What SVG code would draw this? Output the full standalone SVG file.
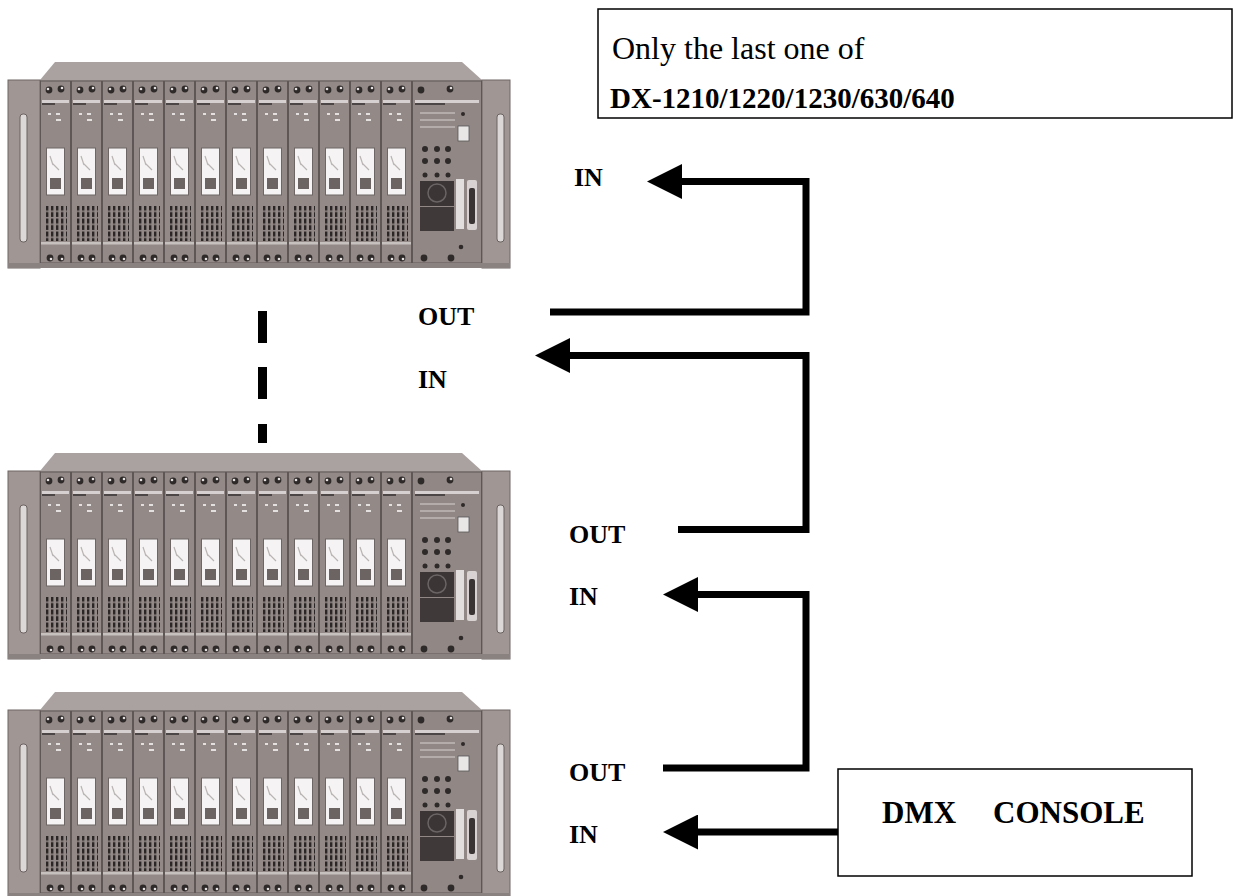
<svg xmlns="http://www.w3.org/2000/svg" xmlns:xlink="http://www.w3.org/1999/xlink" width="1234" height="896" viewBox="0 0 1234 896">
<style>
.lbl{font-family:"Liberation Serif","Times New Roman",serif;font-weight:bold;font-size:26px;fill:#000}
.conn{fill:none;stroke:#000;stroke-width:7;stroke-linejoin:miter}
.box{fill:#fff;stroke:#000;stroke-width:1.5}
.dk{fill:#2f2a2a}
.hl{fill:#e4e0df}
</style>
<defs>
<marker id="arr" viewBox="0 0 35 35" refX="0" refY="17.5" markerWidth="35" markerHeight="35" markerUnits="userSpaceOnUse" orient="auto">
<path d="M0,0 L35,17.5 L0,35 z" fill="#000"/>
</marker>
<pattern id="vent" patternUnits="userSpaceOnUse" width="5" height="6.5">
<rect x="1" y="0.5" width="2.4" height="5" fill="#2b2626"/>
</pattern>
<g id="mod">
<rect x="0.5" y="19" width="30" height="182" fill="#938a88" stroke="#5f5756" stroke-width="1"/>
<circle cx="9" cy="28" r="3.4" class="dk"/><circle cx="8" cy="27" r="1.3" class="hl"/>
<circle cx="21" cy="27" r="3.4" class="dk"/><circle cx="22" cy="26" r="1.3" class="hl"/>
<rect x="2" y="38" width="27" height="3" fill="#d6d1d0"/>
<rect x="2" y="41" width="13" height="2" fill="#4d4646"/>
<rect x="8" y="51" width="3" height="2" class="hl"/><rect x="16" y="51" width="4" height="2" class="hl"/>
<rect x="16" y="57" width="5" height="2" class="hl"/>
<rect x="6.5" y="86" width="18" height="47" fill="#f5f3f3" stroke="#6d6665" stroke-width="1"/>
<path d="M10,94 L13,103 M12,101 L19,108" stroke="#b9b4b3" stroke-width="1.2" fill="none"/>
<rect x="10" y="116" width="11" height="11" fill="#6b6463"/>
<rect x="4" y="144" width="23" height="35" fill="url(#vent)"/>
<rect x="1" y="180" width="29" height="2.5" fill="#c6c0bf"/>
<circle cx="10" cy="196" r="3.4" class="dk"/><circle cx="11" cy="197" r="1.3" class="hl"/>
<circle cx="21" cy="196" r="3.4" class="dk"/><circle cx="22" cy="197" r="1.3" class="hl"/>
</g>
<g id="rack">
<rect x="8" y="18" width="502" height="188" fill="#9b9290"/>
<polygon points="40,18 55,0 462,0 482,18" fill="#aaa2a0"/>
<rect x="8" y="18" width="32" height="188" fill="#a09795" stroke="#6e6665" stroke-width="1"/>
<rect x="482" y="18" width="28" height="188" fill="#a09795" stroke="#6e6665" stroke-width="1"/>
<rect x="20" y="52" width="7" height="128" rx="3" fill="#dcd8d7" stroke="#6a6261" stroke-width="1"/>
<rect x="497" y="52" width="7" height="128" rx="3" fill="#dcd8d7" stroke="#6a6261" stroke-width="1"/>
<use xlink:href="#mod" x="40"/><use xlink:href="#mod" x="71"/><use xlink:href="#mod" x="102"/>
<use xlink:href="#mod" x="133"/><use xlink:href="#mod" x="164"/><use xlink:href="#mod" x="195"/>
<use xlink:href="#mod" x="226"/><use xlink:href="#mod" x="257"/><use xlink:href="#mod" x="288"/>
<use xlink:href="#mod" x="319"/><use xlink:href="#mod" x="350"/><use xlink:href="#mod" x="381"/>
<rect x="412.5" y="19" width="69" height="182" fill="#918886" stroke="#5f5756" stroke-width="1"/>
<circle cx="421" cy="28" r="3.4" class="dk"/><circle cx="450" cy="27" r="3.4" class="dk"/>
<circle cx="451" cy="26" r="1.3" class="hl"/>
<rect x="415" y="38" width="64" height="3" fill="#d6d1d0"/>
<rect x="415" y="41" width="30" height="2" fill="#4d4646"/>
<rect x="420" y="50" width="35" height="2" fill="#b3acab"/>
<rect x="420" y="57" width="35" height="2" fill="#b3acab"/>
<rect x="420" y="64" width="35" height="2" fill="#b3acab"/>
<circle cx="463" cy="52" r="2" class="dk"/>
<rect x="458" y="64" width="11" height="15" fill="#e9e6e6" stroke="#555" stroke-width="0.8"/>
<circle cx="425" cy="87" r="3" class="dk"/><circle cx="437" cy="87" r="3" class="dk"/><circle cx="448" cy="87" r="3" class="dk"/>
<circle cx="425" cy="99" r="3" class="dk"/><circle cx="437" cy="99" r="3" class="dk"/><circle cx="448" cy="99" r="3" class="dk"/>
<circle cx="425" cy="113" r="2.5" class="dk"/><circle cx="437" cy="113" r="2.5" class="dk"/><circle cx="448" cy="113" r="2.5" class="dk"/>
<rect x="420" y="119" width="34" height="25" fill="#3b3535"/>
<circle cx="437" cy="131" r="9" fill="none" stroke="#6b6464" stroke-width="1.5"/>
<rect x="420" y="145" width="34" height="24" fill="#3f3939"/>
<rect x="456" y="117" width="8" height="50" fill="#e2dede"/>
<rect x="467" y="118" width="10" height="50" rx="2" fill="#d8d3d2"/>
<rect x="469" y="126" width="6" height="36" rx="2" fill="#3a3434"/>
<circle cx="461" cy="185" r="2.3" class="dk"/>
<circle cx="424" cy="196" r="3.4" class="dk"/><circle cx="451" cy="196" r="3.4" class="dk"/>
<rect x="8" y="201" width="502" height="5" fill="#8a8280"/>
</g>
</defs>
<g id="rack1"><use xlink:href="#rack" x="0" y="62"/></g>
<g id="rack2"><use xlink:href="#rack" x="0" y="453"/></g>
<g id="rack3"><use xlink:href="#rack" x="0" y="692"/></g>
<g id="dashes">
<rect x="258" y="311" width="9" height="32" fill="#000"/>
<rect x="258" y="367" width="9" height="32" fill="#000"/>
<rect x="258" y="424" width="9" height="19" fill="#000"/>
</g>
<g id="note">
<rect x="598" y="9" width="634" height="109" class="box"/>
<text x="612" y="59" font-family="'Liberation Serif','Times New Roman',serif" font-size="32" fill="#000">Only the last one of</text>
<text x="610" y="108" font-family="'Liberation Serif','Times New Roman',serif" font-size="29" font-weight="bold" fill="#000">DX-1210/1220/1230/630/640</text>
</g>
<g id="console">
<rect x="838" y="769" width="354" height="107" class="box"/>
<text class="lbl" style="font-size:31px"><tspan x="882" y="823">DMX</tspan><tspan x="993" y="823">CONSOLE</tspan></text>
</g>
<g id="labels">
<text class="lbl" x="574" y="186">IN</text>
<text class="lbl" x="418" y="325">OUT</text>
<text class="lbl" x="418" y="388">IN</text>
<text class="lbl" x="569" y="543">OUT</text>
<text class="lbl" x="569" y="605">IN</text>
<text class="lbl" x="569" y="781">OUT</text>
<text class="lbl" x="569" y="843">IN</text>
</g>
<g id="connectors">
<path class="conn" d="M550,312 H806 V181.5 H682" marker-end="url(#arr)"/>
<path class="conn" d="M678,529.5 H806 V355.5 H570" marker-end="url(#arr)"/>
<path class="conn" d="M663,768 H806 V594.5 H698" marker-end="url(#arr)"/>
<path class="conn" d="M838,832 H698" marker-end="url(#arr)"/>
</g>
</svg>
